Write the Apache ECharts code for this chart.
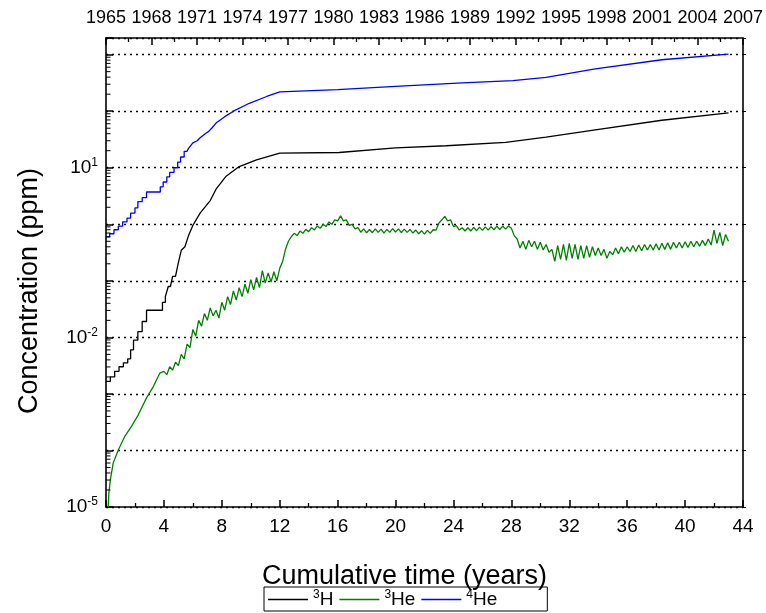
<!DOCTYPE html>
<html><head><meta charset="utf-8">
<script src="https://cdn.jsdelivr.net/npm/echarts@6/dist/echarts.min.js"></script>
<style>html,body{margin:0;padding:0;background:#fff}#c{width:766px;height:613px}</style>
</head><body><div id="c"></div>
<script>
// x axis (cumulative time, years)
const timeMin = 0, timeMax = 44, timeStep = 4;
// top axis (calendar year)
const yearMin = 1965, yearMax = 2007, yearStep = 3;
// y axis (ppm, log)
const concMin = 1e-5, concMax = 1970;
const yLabelExponents = [-5, -2, 1];
const decadeExponents = [-5, -4, -3, -2, -1, 0, 1, 2, 3];
const minorMultipliers = [2, 3, 4, 5, 6, 7, 8, 9];

// 3H  [years, ppm]
const tritium = [
  [0,1.66e-3],[0.3,1.66e-3],[0.3,2.0e-3],[0.6,2.0e-3],[0.6,2.51e-3],[0.9,2.51e-3],[0.9,3.02e-3],
  [1.2,3.02e-3],[1.2,3.55e-3],[1.5,3.55e-3],[1.5,4.17e-3],[1.7,4.17e-3],[1.7,6.03e-3],[1.9,6.03e-3],
  [1.9,8.91e-3],[2.2,8.91e-3],[2.2,1.26e-2],[2.5,1.26e-2],[2.5,1.91e-2],[2.8,1.91e-2],[2.8,3.02e-2],
  [3.9,3.02e-2],[3.9,4.17e-2],[4.1,4.17e-2],[4.1,5.25e-2],[4.3,7.94e-2],[4.45,7.94e-2],[4.6,0.120],
  [4.8,0.120],[5.0,0.209],[5.2,0.347],[5.45,0.40],[5.7,0.631],[6.0,0.955],[6.5,1.58],[7.2,2.63],
  [7.6,4.17],[8.3,7.08],[9.2,10.5],[10.4,13.8],
  [12.0,18.2],[16.1,18.6],[20.0,22.4],[23.5,24.5],[27.6,28.2],[30.4,34.7],[33.8,46.8],[38.4,69.2],[43.0,93.3]
];

// 3He  [years, ppm]
const helium3 = [
  [0.15,1.0e-5],[0.2,1.78e-5],[0.3,3.02e-5],[0.5,6.03e-5],[0.85,1.02e-4],[1.3,1.78e-4],[1.77,2.69e-4],
  [2.23,4.27e-4],[2.8,8.51e-4],[3.27,1.35e-3],[3.72,2.34e-3],
  [4.0,2.51e-3],[4.2,2.19e-3],[4.4,3.02e-3],[4.6,2.63e-3],[4.8,3.63e-3],[5.0,3.16e-3],[5.2,5.01e-3],
  [5.4,4.17e-3],[5.6,7.59e-3],[5.8,6.61e-3],[6.0,1.38e-2],[6.2,1.05e-2],[6.4,2.00e-2],[6.6,1.58e-2],
  [6.8,2.63e-2],[7.0,2.00e-2],[7.2,3.31e-2],[7.4,2.40e-2],[7.6,3.02e-2],[7.8,2.19e-2],[8.0,4.17e-2],
  [8.2,3.02e-2],[8.4,5.25e-2],[8.6,3.80e-2],[8.8,6.61e-2],[9.0,4.57e-2],[9.2,7.59e-2],[9.4,5.25e-2],
  [9.6,8.71e-2],[9.8,6.03e-2],[10.0,0.105],[10.2,0.0692],[10.4,0.115],[10.6,0.0759],[10.8,0.151],
  [11.0,0.0912],[11.2,0.138],[11.4,0.0955],[11.6,0.145],[11.8,0.100],[12.0,0.166],[12.2,0.219],
  [12.4,0.363],[12.6,0.501],[12.8,0.603],[13.0,0.692],[13.2,0.631],[13.4,0.759],[13.6,0.692],
  [13.8,0.813],[14.0,0.741],[14.2,0.871],[14.4,0.794],[14.6,0.933],[14.8,0.851],[15.0,1.00],
  [15.2,0.912],[15.4,1.10],[15.6,1.00],[15.8,1.20],[16.0,1.15],[16.2,1.41],[16.4,1.15],[16.6,1.20],
  [16.8,0.955],[17.0,1.00],[17.2,0.832],[17.4,0.871],[17.6,0.724],[17.8,0.832],[18.0,0.708],
  [18.2,0.81],[18.4,0.71],[18.6,0.83],[18.8,0.72],[19.0,0.82],[19.2,0.70],[19.4,0.81],[19.6,0.72],
  [19.8,0.84],[20.0,0.73],[20.2,0.83],[20.4,0.71],[20.6,0.82],[20.8,0.72],[21.0,0.81],[21.2,0.70],
  [21.4,0.79],[21.6,0.68],[21.8,0.77],[22.0,0.67],[22.2,0.78],[22.4,0.69],[22.6,0.80],[22.8,0.79],
  [23.0,1.05],[23.2,1.20],[23.4,1.38],[23.6,1.15],[23.8,1.20],[24.0,0.91],[24.2,0.95],[24.4,0.79],
  [24.6,0.87],[24.8,0.76],[25.0,0.87],[25.2,0.76],[25.4,0.88],[25.6,0.77],[25.8,0.89],[26.0,0.78],
  [26.2,0.90],[26.4,0.79],[26.6,0.91],[26.8,0.80],[27.0,0.93],[27.2,0.81],[27.4,0.93],[27.6,0.82],
  [27.8,0.93],[28.0,0.85],[28.2,0.63],[28.4,0.55],[28.6,0.38],[28.8,0.50],[29.0,0.36],[29.2,0.52],
  [29.4,0.40],[29.6,0.50],[29.8,0.36],[30.0,0.48],[30.2,0.35],[30.4,0.44],[30.6,0.32],[30.8,0.36],
  [31.0,0.22],[31.2,0.42],[31.4,0.24],[31.6,0.44],[31.8,0.23],[32.0,0.46],[32.2,0.25],[32.4,0.44],
  [32.6,0.24],[32.8,0.42],[33.0,0.25],[33.2,0.42],[33.4,0.26],[33.6,0.40],[33.8,0.28],[34.0,0.38],
  [34.2,0.28],[34.4,0.36],[34.6,0.25],[34.8,0.33],[35.0,0.29],[35.2,0.38],[35.4,0.30],[35.6,0.40],
  [35.8,0.32],[36.0,0.40],[36.2,0.33],[36.4,0.42],[36.6,0.33],[36.8,0.43],[37.0,0.34],[37.2,0.44],
  [37.4,0.35],[37.6,0.44],[37.8,0.35],[38.0,0.45],[38.2,0.35],[38.4,0.46],[38.6,0.36],[38.8,0.47],
  [39.0,0.36],[39.2,0.48],[39.4,0.38],[39.6,0.48],[39.8,0.38],[40.0,0.49],[40.2,0.39],[40.4,0.50],
  [40.6,0.40],[40.8,0.50],[41.0,0.41],[41.2,0.52],[41.4,0.42],[41.6,0.55],[41.8,0.43],[42.0,0.79],
  [42.2,0.46],[42.4,0.72],[42.6,0.42],[42.8,0.66],[43.0,0.50]
];

// 4He  [years, ppm]
const helium4 = [
  [0,0.60],[0.25,0.60],[0.25,0.68],[0.55,0.68],[0.55,0.80],[0.85,0.80],[0.85,0.93],[1.15,0.93],
  [1.15,1.10],[1.45,1.10],[1.45,1.29],[1.7,1.29],[1.7,1.58],[2.0,1.58],[2.0,1.95],[2.2,1.95],
  [2.2,2.51],[2.5,2.51],[2.5,2.95],[2.8,2.95],[2.8,3.72],[3.75,3.72],[3.75,4.6],[3.95,4.6],
  [3.95,5.6],[4.2,5.6],[4.2,6.9],[4.4,6.9],[4.4,8.3],[4.7,8.3],[4.7,10.0],[4.95,10.0],[4.95,12.6],
  [5.15,12.6],[5.15,15.5],[5.4,15.5],[5.4,19.5],[5.6,19.5],[5.7,22],[6.0,27.5],[6.3,30],[6.5,34],
  [6.9,40.7],[7.1,44],[7.3,50],[7.6,61.7],[8.2,80],[8.8,100],[9.9,138],[11.1,182],[12.0,219],
  [16.0,240],[20.0,275],[24.6,316],[28.1,347],[30.4,398],[33.8,562],[38.4,813],[43.0,1023]
];

const seriesNames = ['³H', '³He', '⁴He'];
const seriesColors = ['#000000', '#008000', '#0000ff'];

// log minor tick positions (axis decoration)
const minorTickValues = [];
decadeExponents.forEach(function (e) {
  minorMultipliers.forEach(function (m) {
    const v = m * Math.pow(10, e);
    if (v < concMax) minorTickValues.push([timeMin, v]);
  });
});

const FONT = 'Liberation Sans, Arial, sans-serif';
const chart = echarts.init(document.getElementById('c'), null, {renderer: 'canvas'});
const axisLine = {show: true, lineStyle: {color: '#000', width: 1.6}};

chart.setOption({
  animation: false,
  backgroundColor: '#fff',
  textStyle: {fontFamily: FONT},
  grid: {left: 106, right: 21, top: 38, bottom: 106, containLabel: false},
  graphic: [{
    type: 'text', x: 30, y: 291, rotation: Math.PI / 2,
    style: {text: 'Concentration (ppm)', fontSize: 27, fontFamily: FONT, fill: '#000',
            textAlign: 'center', textVerticalAlign: 'middle'}
  }],
  legend: {
    left: 264, top: 587, selectedMode: false,
    data: seriesNames,
    icon: 'rect', itemWidth: 40, itemHeight: 1.4, itemGap: 6,
    padding: [2, 50, 2, 4],
    borderColor: '#000', borderWidth: 1, borderRadius: 0,
    formatter: function (n) { return '{s|' + n.charAt(0).replace('³','3').replace('⁴','4') + '}{b|' + n.slice(1) + '}'; },
    textStyle: {color: '#000', fontFamily: FONT, fontSize: 19,
      rich: {b: {fontSize: 19, color: '#000', lineHeight: 21, fontFamily: FONT},
             s: {fontSize: 12, color: '#000', lineHeight: 21, verticalAlign: 'top', fontFamily: FONT}}}
  },
  xAxis: [{
    type: 'value', position: 'bottom', min: timeMin, max: timeMax, interval: timeStep,
    name: 'Cumulative time (years)', nameLocation: 'middle', nameGap: 56,
    nameTextStyle: {fontSize: 27, color: '#000', fontFamily: FONT, padding: [0, 40, 0, 0]},
    axisLine: axisLine,
    axisTick: {show: true, inside: true, length: 7, lineStyle: {color: '#000', width: 1.5}},
    minorTick: {show: true, splitNumber: 2, length: 4, lineStyle: {color: '#000', width: 1.3}},
    axisLabel: {color: '#000', fontSize: 19, margin: 10, fontFamily: FONT},
    splitLine: {show: false}
  }, {
    type: 'value', position: 'top', min: yearMin, max: yearMax, interval: yearStep,
    axisLine: axisLine,
    axisTick: {show: true, inside: true, length: 7, lineStyle: {color: '#000', width: 1.5}},
    minorTick: {show: true, splitNumber: 2, length: 4, lineStyle: {color: '#000', width: 1.3}},
    axisLabel: {color: '#000', fontSize: 18, margin: 11, fontFamily: FONT,
                formatter: function (v) { return String(v); }},
    splitLine: {show: false}
  }],
  yAxis: [{
    type: 'log', logBase: 10, min: concMin, max: concMax, interval: 1,
    axisLine: axisLine,
    axisTick: {show: true, inside: true, length: 7, lineStyle: {color: '#000', width: 1.5}},
    minorTick: {show: false},
    axisLabel: {
      margin: 8, color: '#000',
      formatter: function (v) {
        const l = Math.log10(v), e = Math.round(l);
        if (Math.abs(l - e) > 1e-6 || yLabelExponents.indexOf(e) < 0) return '';
        return '{b|10}{s|' + e + '}';
      },
      rich: {b: {fontSize: 19, color: '#000', lineHeight: 22, fontFamily: FONT},
             s: {fontSize: 12, color: '#000', lineHeight: 22, verticalAlign: 'top', fontFamily: FONT}}
    },
    splitLine: {show: true, lineStyle: {color: '#000', width: 1.3, type: [2, 4]}}
  }, {
    type: 'log', logBase: 10, min: concMin, max: concMax, interval: 1, position: 'right',
    axisLine: axisLine,
    axisTick: {show: true, inside: false, length: 3, lineStyle: {color: '#000', width: 1}},
    axisLabel: {show: false},
    splitLine: {show: false}
  }],
  series: [
    {name: seriesNames[0], type: 'line', data: tritium, showSymbol: false, symbol: 'none',
     lineStyle: {color: seriesColors[0], width: 1.3}, itemStyle: {color: seriesColors[0]}},
    {name: seriesNames[1], type: 'line', data: helium3, showSymbol: false, symbol: 'none',
     lineStyle: {color: seriesColors[1], width: 1.3}, itemStyle: {color: seriesColors[1]}},
    {name: seriesNames[2], type: 'line', data: helium4, showSymbol: false, symbol: 'none',
     lineStyle: {color: seriesColors[2], width: 1.3}, itemStyle: {color: seriesColors[2]}},
    {name: 'minorTicks', type: 'custom', data: minorTickValues, silent: true, clip: false, z: 5,
     renderItem: function (params, api) {
       const p = api.coord([api.value(0), api.value(1)]);
       return {type: 'line', shape: {x1: p[0], y1: p[1], x2: p[0] + 4.5, y2: p[1]},
               style: {stroke: '#000', lineWidth: 1}};
     }}
  ]
});
</script></body></html>
